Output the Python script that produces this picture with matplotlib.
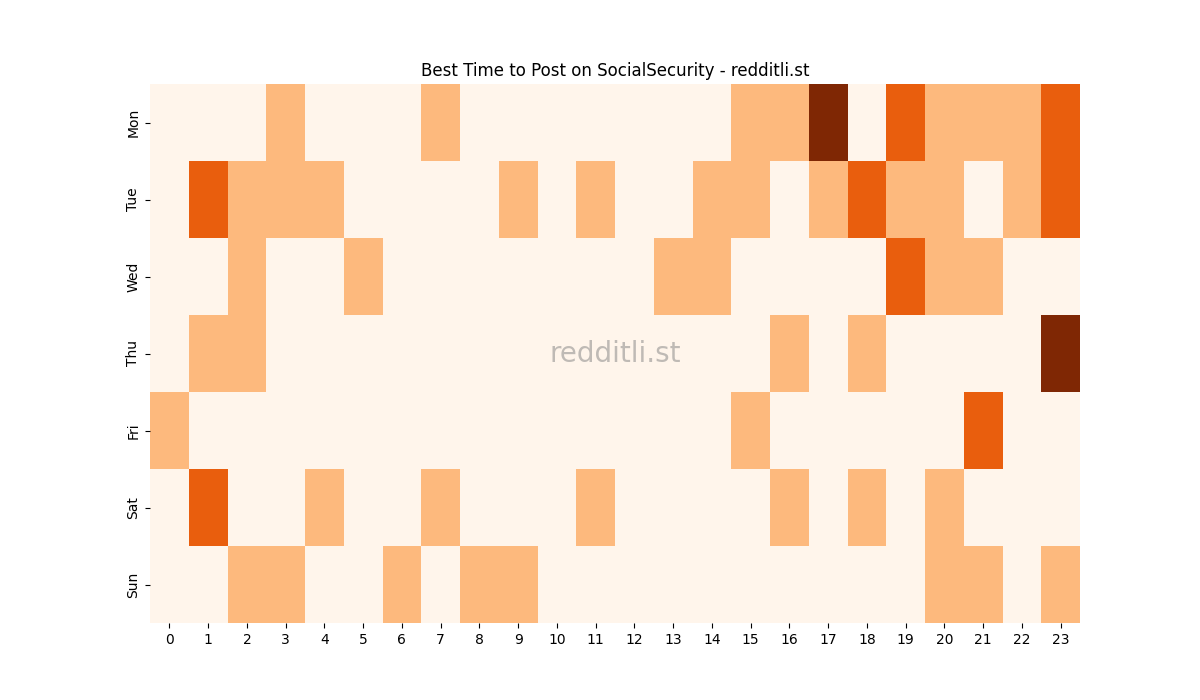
import matplotlib
matplotlib.use("Agg")
import matplotlib.pyplot as plt
import seaborn as sns
import numpy as np

days = ["Mon", "Tue", "Wed", "Thu", "Fri", "Sat", "Sun"]
hours = list(range(24))

# posts score per hour (0..3)
mon = [0, 0, 0, 1, 0, 0, 0, 1, 0, 0, 0, 0, 0, 0, 0, 1, 1, 3, 0, 2, 1, 1, 1, 2]
tue = [0, 2, 1, 1, 1, 0, 0, 0, 0, 1, 0, 1, 0, 0, 1, 1, 0, 1, 2, 1, 1, 0, 1, 2]
wed = [0, 0, 1, 0, 0, 1, 0, 0, 0, 0, 0, 0, 0, 1, 1, 0, 0, 0, 0, 2, 1, 1, 0, 0]
thu = [0, 1, 1, 0, 0, 0, 0, 0, 0, 0, 0, 0, 0, 0, 0, 0, 1, 0, 1, 0, 0, 0, 0, 3]
fri = [1, 0, 0, 0, 0, 0, 0, 0, 0, 0, 0, 0, 0, 0, 0, 1, 0, 0, 0, 0, 0, 2, 0, 0]
sat = [0, 2, 0, 0, 1, 0, 0, 1, 0, 0, 0, 1, 0, 0, 0, 0, 1, 0, 1, 0, 1, 0, 0, 0]
sun = [0, 0, 1, 1, 0, 0, 1, 0, 1, 1, 0, 0, 0, 0, 0, 0, 0, 0, 0, 0, 1, 1, 0, 1]

grid = np.array([mon, tue, wed, thu, fri, sat, sun])

fig, ax = plt.subplots(figsize=(12, 7), dpi=100)
sns.heatmap(grid, cmap="Oranges", cbar=False, xticklabels=hours, yticklabels=days, ax=ax)
ax.set_title("Best Time to Post on SocialSecurity - redditli.st")
ax.text(0.5, 0.5, "redditli.st", transform=ax.transAxes, ha="center", va="center",
        fontsize=20, color="gray", alpha=0.5)
plt.yticks(rotation=90, va="center")
plt.xticks(rotation=0)
fig.savefig("out.png")
